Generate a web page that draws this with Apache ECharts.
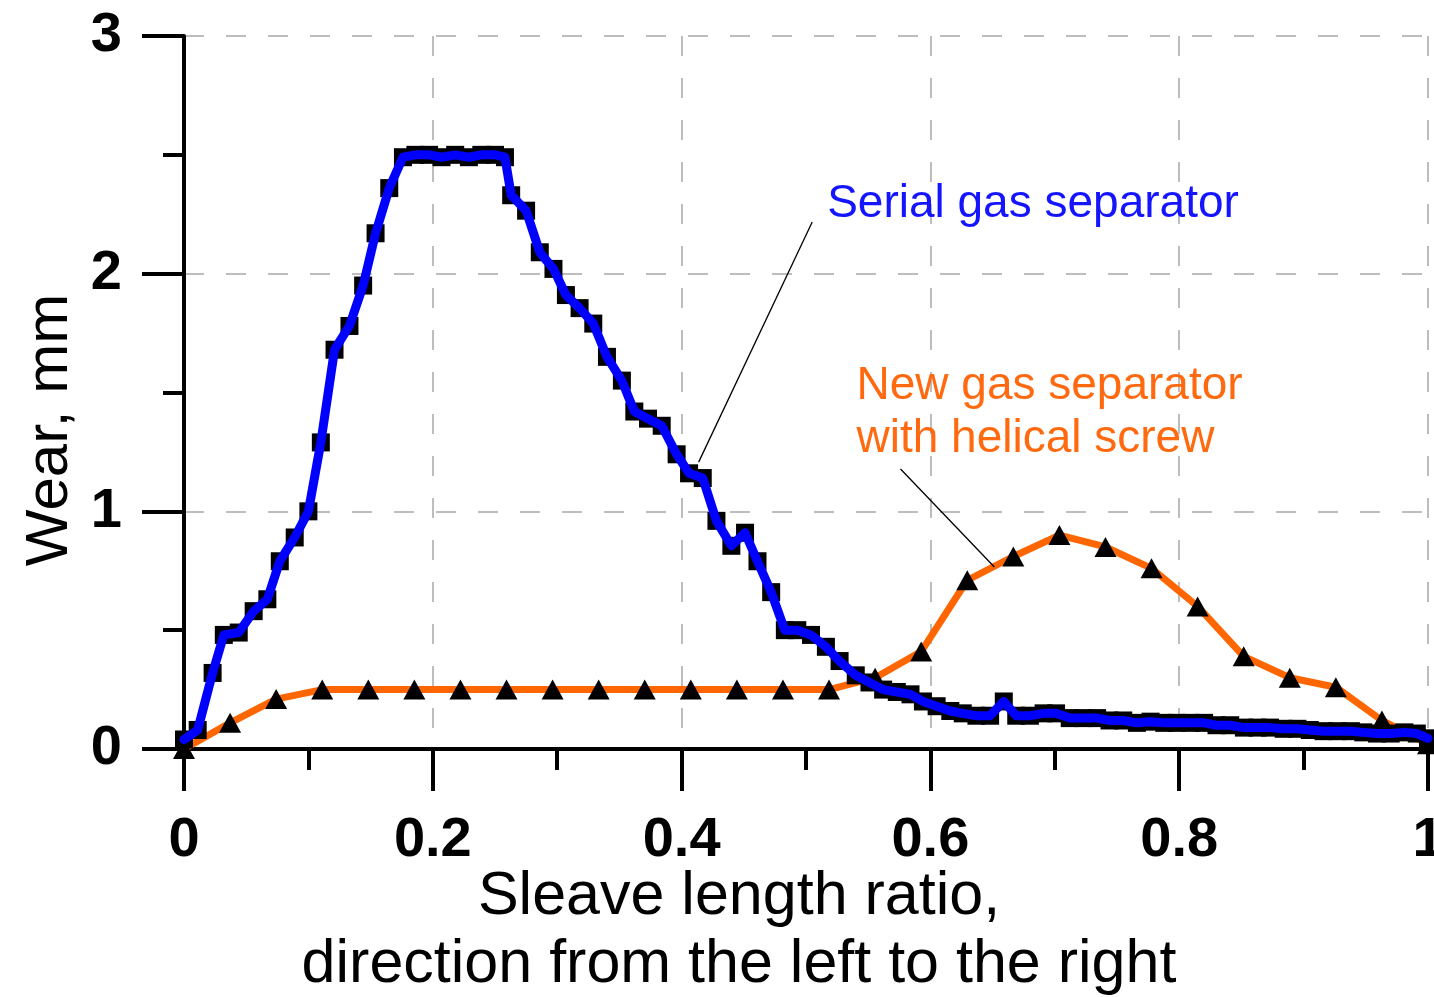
<!DOCTYPE html>
<html>
<head>
<meta charset="utf-8">
<script src="https://cdn.jsdelivr.net/npm/echarts@6/dist/echarts.min.js"></script>
<style>
html,body{margin:0;padding:0;background:#fff;overflow:hidden;}
#chart{width:1434px;height:997px;}
</style>
</head>
<body>
<div id="chart"></div>
<script>
// ---- data ----
const serialX = [0.000,0.011,0.023,0.032,0.044,0.056,0.067,0.077,0.089,0.100,0.110,0.121,0.133,0.144,0.154,0.165,0.176,0.186,0.197,0.207,0.218,0.229,0.239,0.250,0.258,0.263,0.275,0.286,0.297,0.307,0.318,0.329,0.340,0.352,0.362,0.373,0.384,0.396,0.406,0.417,0.428,0.440,0.451,0.461,0.472,0.483,0.493,0.504,0.516,0.527,0.540,0.551,0.562,0.573,0.584,0.594,0.605,0.616,0.626,0.637,0.648,0.659,0.669,0.680,0.691,0.701,0.712,0.723,0.734,0.744,0.755,0.766,0.777,0.788,0.798,0.809,0.820,0.830,0.841,0.852,0.863,0.873,0.884,0.895,0.905,0.916,0.927,0.938,0.948,0.959,0.970,0.981,0.991,1.000];
const serialY = [0.04,0.08,0.32,0.48,0.49,0.58,0.63,0.79,0.89,1.00,1.29,1.68,1.78,1.95,2.17,2.36,2.49,2.50,2.50,2.49,2.50,2.49,2.50,2.50,2.49,2.33,2.265,2.09,2.02,1.91,1.855,1.79,1.65,1.55,1.42,1.39,1.36,1.24,1.16,1.14,0.96,0.855,0.91,0.79,0.66,0.50,0.50,0.48,0.43,0.37,0.31,0.28,0.25,0.24,0.23,0.20,0.18,0.16,0.15,0.14,0.14,0.20,0.14,0.14,0.15,0.15,0.13,0.13,0.13,0.12,0.12,0.11,0.115,0.11,0.11,0.11,0.11,0.10,0.10,0.09,0.09,0.09,0.085,0.085,0.08,0.075,0.075,0.075,0.07,0.065,0.065,0.07,0.065,0.045];

const newX = [0,1,2,3,4,5,6,7,8,9,10,11,12,13,14,15,16,17,18,19,20,21,22,23,24,25,26,27].map(i => i / 27);
const newY = [0.00,0.11,0.21,0.25,0.25,0.25,0.25,0.25,0.25,0.25,0.25,0.25,0.25,0.25,0.25,0.30,0.41,0.71,0.81,0.90,0.85,0.76,0.60,0.39,0.30,0.26,0.12,0.02];

const xTicks = ['0','0.2','0.4','0.6','0.8','1'];
const yTicks = ['0','1','2','3'];

const serialLabel = 'Serial gas separator';
const newLabel = ['New gas separator', 'with helical screw'];
const xTitle = 'Sleave length ratio,\ndirection from the left to the right';
const yTitle = 'Wear, mm';

// ---- chart ----
const FONT = '"Liberation Sans", Arial, Helvetica, sans-serif';
const serialData = serialX.map((x, i) => [x, serialY[i]]);
const newData = newX.map((x, i) => [x, newY[i]]);

const chart = echarts.init(document.getElementById('chart'), null, {renderer: 'canvas', width: 1434, height: 997});

function axisCommon() {
  return {
    axisLine: {show: true, onZero: false, lineStyle: {color: '#000', width: 4}},
    axisTick: {show: true, length: 42, lineStyle: {color: '#000', width: 4}},
    minorTick: {show: true, splitNumber: 2, length: 21, lineStyle: {color: '#000', width: 4}},
    splitLine: {show: true, lineStyle: {color: '#bdbdbd', width: 2, type: [20, 22]}},
    minorSplitLine: {show: false}
  };
}

chart.setOption({
  animation: false,
  backgroundColor: '#fff',
  grid: {left: 184, right: 6, top: 36, bottom: 248, containLabel: false, outerBoundsMode: 'none'},
  xAxis: Object.assign({
    type: 'value', min: 0, max: 1, interval: 0.2,
    name: xTitle, nameLocation: 'middle', nameGap: 114, nameMoveOverlap: false,
    nameTextStyle: {fontFamily: FONT, fontSize: 61, color: '#000', lineHeight: 68, verticalAlign: 'top', padding: [0, 134, 0, 0]},
    axisLabel: {
      fontFamily: FONT, fontSize: 56, fontWeight: 'bold', color: '#000', margin: 64,
      formatter: v => xTicks[Math.round(v / 0.2)] ?? ''
    }
  }, axisCommon()),
  yAxis: Object.assign({
    type: 'value', min: 0, max: 3, interval: 1,
    name: yTitle, nameLocation: 'middle', nameGap: 104, nameRotate: 90, nameMoveOverlap: false,
    nameTextStyle: {fontFamily: FONT, fontSize: 60, color: '#000', padding: [0, 75, 0, 0]},
    axisLabel: {
      fontFamily: FONT, fontSize: 56, fontWeight: 'bold', color: '#000', margin: 62,
      formatter: v => yTicks[Math.round(v)] ?? ''
    }
  }, axisCommon()),
  series: [
    {
      name: 'New gas separator with helical screw',
      type: 'line', data: newData, z: 2, clip: false,
      symbol: 'triangle', symbolSize: [22, 20], showAllSymbol: true,
      itemStyle: {color: '#000', opacity: 1},
      lineStyle: {color: '#ff6600', width: 7, cap: 'round', join: 'round'}
    },
    {
      name: 'Serial gas separator markers',
      type: 'scatter', data: serialData, z: 3, clip: false,
      symbol: 'rect', symbolSize: 18,
      itemStyle: {color: '#000', opacity: 1}
    },
    {
      name: 'Serial gas separator',
      type: 'line', data: serialData, z: 4, clip: false,
      showSymbol: false, symbol: 'none',
      lineStyle: {color: '#0000ff', width: 9, cap: 'round', join: 'round'}
    }
  ]
});

// ---- annotations (anchored in data coordinates) ----
const annotations = {
  serialText: [0.517, 2.293],
  serialLine: [[0.505, 2.217], [0.4137, 1.207]],
  newText1: [0.5406, 1.527],
  newText2: [0.5406, 1.304],
  newLine: [[0.576, 1.178], [0.6514, 0.766]]
};
const px = p => chart.convertToPixel({gridIndex: 0}, p);
const sT = px(annotations.serialText);
const sL0 = px(annotations.serialLine[0]), sL1 = px(annotations.serialLine[1]);
const n1 = px(annotations.newText1), n2 = px(annotations.newText2);
const nL0 = px(annotations.newLine[0]), nL1 = px(annotations.newLine[1]);

chart.setOption({
  graphic: [
    {type: 'line', z: 10, shape: {x1: sL0[0], y1: sL0[1], x2: sL1[0], y2: sL1[1]}, style: {stroke: '#000', lineWidth: 1.3}},
    {type: 'line', z: 10, shape: {x1: nL0[0], y1: nL0[1], x2: nL1[0], y2: nL1[1]}, style: {stroke: '#000', lineWidth: 1.3}},
    {type: 'text', z: 10, x: sT[0], y: sT[1], style: {text: serialLabel, font: '46px ' + FONT, fill: '#1414ff', align: 'left', verticalAlign: 'middle'}},
    {type: 'text', z: 10, x: n1[0], y: n1[1], style: {text: newLabel[0], font: '46px ' + FONT, fill: '#ff6a10', align: 'left', verticalAlign: 'middle'}},
    {type: 'text', z: 10, x: n2[0], y: n2[1], style: {text: newLabel[1], font: '46px ' + FONT, fill: '#ff6a10', align: 'left', verticalAlign: 'middle'}}
  ]
});
</script>
</body>
</html>
